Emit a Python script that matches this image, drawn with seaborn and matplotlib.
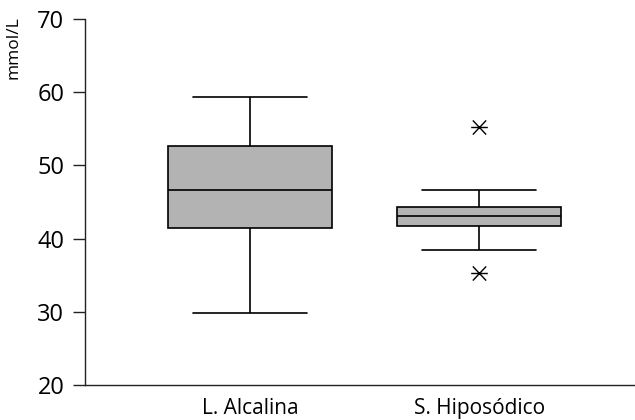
import matplotlib
matplotlib.use("Agg")
import matplotlib.pyplot as plt
from matplotlib.path import Path
import seaborn as sns
import pandas as pd

# Values chosen to reproduce the box statistics
categories = ["L. Alcalina", "S. Hiposódico"]
alcalina = [29.9, 41.4, 46.6, 52.7, 59.3]
hiposodico = [35.3, 38.4, 41.7, 42.6, 43.1, 43.8, 44.3, 46.6, 55.2]
y_ticks = [20, 30, 40, 50, 60, 70]

df = pd.DataFrame({
    "grupo": [categories[0]] * len(alcalina) + [categories[1]] * len(hiposodico),
    "valor": alcalina + hiposodico,
})

sns.set_theme(style="ticks")
plt.rcParams["font.family"] = ["Open Sans", "DejaVu Sans"]
plt.rcParams["text.color"] = "black"
plt.rcParams["xtick.color"] = "black"
plt.rcParams["ytick.color"] = "black"
plt.rcParams["xtick.labelcolor"] = "black"
plt.rcParams["ytick.labelcolor"] = "black"

# asterisk marker: horizontal bar plus an X
star = Path(
    [(-1, 0), (1, 0), (-0.8, -0.85), (0.8, 0.85), (-0.8, 0.85), (0.8, -0.85)],
    [Path.MOVETO, Path.LINETO, Path.MOVETO, Path.LINETO, Path.MOVETO, Path.LINETO],
)

fig = plt.figure(figsize=(6.35, 4.2), dpi=100)
ax = fig.add_axes([0.134, 0.0833, 0.866, 0.8717])

sns.boxplot(
    data=df, x="grupo", y="valor", order=categories, ax=ax,
    color="#b3b3b3", saturation=1, width=0.716, whis=1.5,
    linecolor="black", linewidth=1.2,
    flierprops=dict(marker=star, markersize=12, markeredgecolor="black",
                    markerfacecolor="none", markeredgewidth=1.0),
)

# widen caps to match reference
for line in ax.lines:
    xd = list(line.get_xdata())
    yd = list(line.get_ydata())
    if len(xd) == 2 and yd[0] == yd[1] and abs(abs(xd[1] - xd[0]) - 0.716) > 0.05:
        c = (xd[0] + xd[1]) / 2
        line.set_xdata([c - 0.25, c + 0.25])

ax.set_ylim(20, 70)
ax.set_xlim(-0.72, 1.68)
ax.set_yticks(y_ticks)
ax.set_xlabel("")
ax.set_ylabel("")
ax.tick_params(axis="y", length=9, width=1.0, pad=6, labelsize=17, color="#222222")
ax.tick_params(axis="x", length=0, pad=9, labelsize=15)
for s in ["top", "right"]:
    ax.spines[s].set_visible(False)
for s in ["left", "bottom"]:
    ax.spines[s].set_linewidth(1.0)
    ax.spines[s].set_color("#222222")

fig.text(0.022, 0.962, "mmol/L", rotation=90, ha="center", va="top", fontsize=12.5,
         color="black")

fig.savefig("out.png", dpi=100)
